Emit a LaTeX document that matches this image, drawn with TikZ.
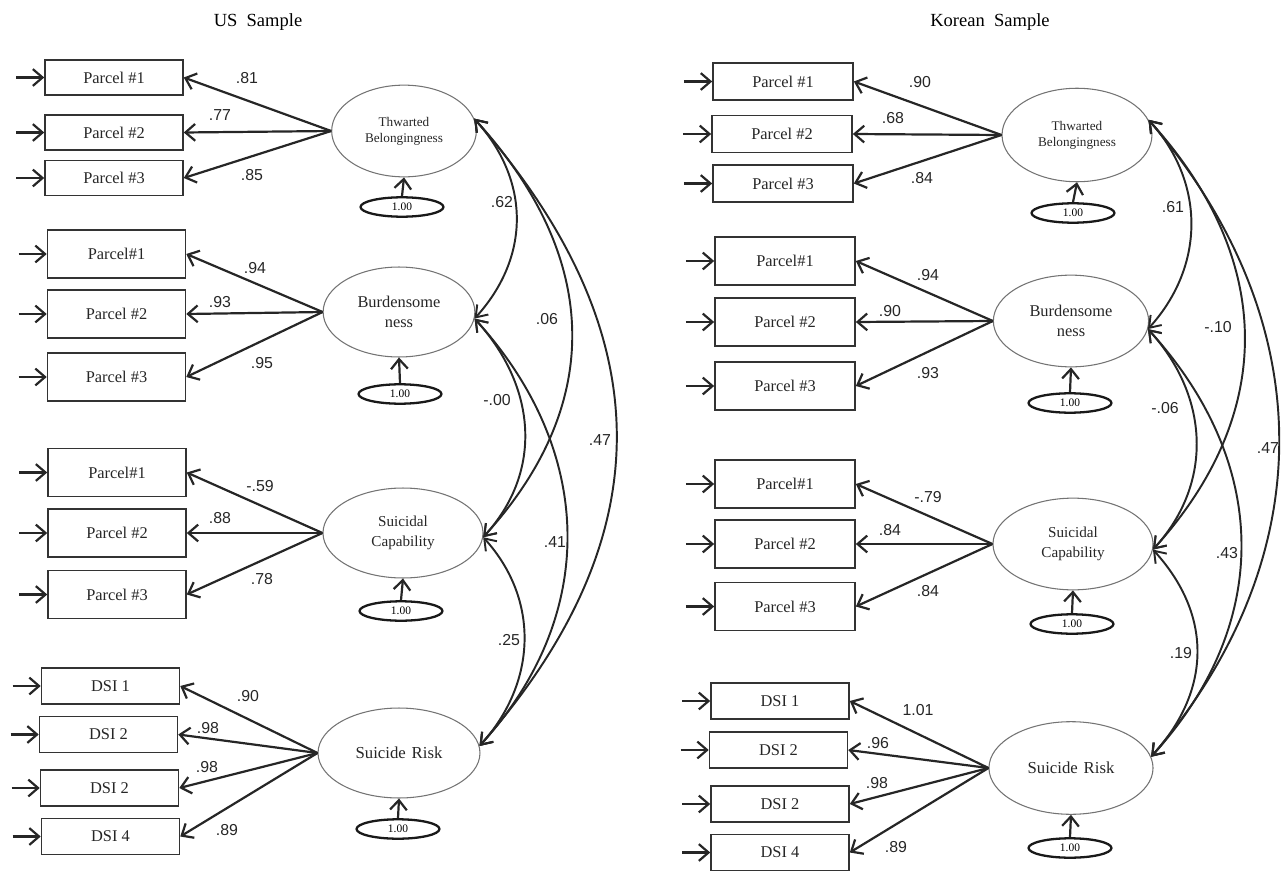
\documentclass[tikz,border=0pt]{standalone}
\usepackage{fontspec}
\setmainfont{Liberation Serif}
\newfontfamily\numfont{Liberation Sans}
\usetikzlibrary{shapes.geometric,arrows.meta}
\begin{document}
\begin{tikzpicture}[x=0.5669pt,y=-0.5669pt,
 box/.style={draw=black!80, line width=0.9pt, inner sep=0pt, font=\fontsize{9.3}{11}\selectfont, text=black!85},
 pbox/.style={box, minimum width=78.2pt, minimum height=27pt},
 tbox/.style={box, minimum width=78.2pt, minimum height=20pt},
 lat/.style={ellipse, draw=black!55, line width=0.6pt, inner sep=0pt, align=center, text=black!85},
 err/.style={ellipse, draw=black!90, line width=1.3pt, minimum width=47pt, minimum height=11pt, inner sep=0pt, font=\fontsize{6.5}{7}\selectfont},
 num/.style={font=\numfont\fontsize{9}{10}\selectfont, text=black!85, inner sep=1pt},
 load/.style={draw=black!85, line width=1.25pt, -{Straight Barb[length=5.5pt,width=9.5pt]}},
 cov/.style={draw=black!85, line width=1.1pt, {Straight Barb[length=6pt,width=8.5pt]}-{Straight Barb[length=6pt,width=8.5pt]}},
 ttl/.style={font=\fontsize{10.5}{12}\selectfont}
]
\useasboundingbox (0,0) rectangle (1287,871);

% ---------------- US sample ----------------
\node[ttl] (uTitle) at (258,22) {US\hspace{0.5em}Sample};

\node[lat, minimum width=82pt, minimum height=52pt, font=\fontsize{7.5}{9}\selectfont] (uT) at (404,131) {Thwarted\\Belongingness};
\node[lat, minimum width=86pt, minimum height=51pt, font=\fontsize{9.3}{11.3}\selectfont] (uB) at (399,312) {Burdensome\\ness};
\node[lat, minimum width=90.7pt, minimum height=51pt, font=\fontsize{8.6}{11.3}\selectfont] (uC) at (403,533) {Suicidal\\Capability};
\node[lat, minimum width=91.8pt, minimum height=51pt, font=\fontsize{9.5}{11}\selectfont] (uR) at (399,753) {Suicide\hspace{0.35em}Risk};

\node[err] (uTe) at (402,207) {1.00};
\node[err] (uBe) at (400,394) {1.00};
\node[err] (uCe) at (401,611) {1.00};
\node[err] (uRe) at (398,829) {1.00};

\node[tbox] (uT1) at (114,77.5) {Parcel \#1};
\node[tbox] (uT2) at (114,132.5) {Parcel \#2};
\node[tbox] (uT3) at (114,178) {Parcel \#3};
\node[pbox] (uB1) at (116.5,254) {Parcel\#1};
\node[pbox] (uB2) at (116.5,314) {Parcel \#2};
\node[pbox] (uB3) at (116.5,377) {Parcel \#3};
\node[pbox] (uC1) at (117,472.5) {Parcel\#1};
\node[pbox] (uC2) at (117,533) {Parcel \#2};
\node[pbox] (uC3) at (117,594.5) {Parcel \#3};
\node[tbox, minimum height=20.4pt] (uR1) at (110.5,686) {DSI 1};
\node[tbox, minimum height=20.4pt] (uR2) at (108.5,734.5) {DSI 2};
\node[tbox, minimum height=20.4pt] (uR3) at (109.5,788) {DSI 2};
\node[tbox, minimum height=20.4pt] (uR4) at (110.5,836.5) {DSI 4};

\foreach \b in {uT1,uT2,uT3,uB1,uB2,uB3,uC1,uC2,uC3,uR1,uR2,uR3,uR4}
  \draw[load] ([xshift=-16pt]\b.west) -- (\b.west);

\foreach \b in {uT1,uT2,uT3} \draw[load] (uT.west) -- (\b.east);
\foreach \b in {uB1,uB2,uB3} \draw[load] (uB.west) -- (\b.east);
\foreach \b in {uC1,uC2,uC3} \draw[load] (uC.west) -- (\b.east);
\foreach \b in {uR1,uR2,uR3,uR4} \draw[load] (uR.west) -- (\b.east);

\draw[load] (uTe.north) -- (uT.south);
\draw[load] (uBe.north) -- (uB.south);
\draw[load] (uCe.north) -- (uC.south);
\draw[load] (uRe.north) -- (uR.south);

\node[num] (uL1) at (247,78) {.81};
\node[num] (uL2) at (220,115) {.77};
\node[num] (uL3) at (252,175) {.85};
\node[num] (uL4) at (255,268) {.94};
\node[num] (uL5) at (220,302) {.93};
\node[num] (uL6) at (262,363) {.95};
\node[num] (uL7) at (260,486) {-.59};
\node[num] (uL8) at (220,518) {.88};
\node[num] (uL9) at (262,579) {.78};
\node[num] (uL10) at (248,696) {.90};
\node[num] (uL11) at (208,728) {.98};
\node[num] (uL12) at (207,767) {.98};
\node[num] (uL13) at (227,830) {.89};

\draw[cov] (uT.10) .. controls +(56,62) and +(56,-62) .. (uB.-5);
\draw[cov] (uT.10) .. controls +(124,136) and +(124,-136) .. (uC.-3);
\draw[cov] (uT.10) .. controls +(186,212) and +(186,-212) .. (uR.5);
\draw[cov] (uB.-5) .. controls +(61,67) and +(61,-67) .. (uC.-3);
\draw[cov] (uB.-5) .. controls +(120,132) and +(120,-132) .. (uR.5);
\draw[cov] (uC.-3) .. controls +(57,63) and +(57,-63) .. (uR.5);

\node[num] (uK1) at (502,202) {.62};
\node[num] (uK2) at (547,319) {.06};
\node[num] (uK3) at (497,400) {-.00};
\node[num] (uK4) at (600,440) {.47};
\node[num] (uK5) at (555,542) {.41};
\node[num] (uK6) at (509,640) {.25};

% ---------------- Korean sample ----------------
\node[ttl] (kTitle) at (990,22) {Korean\hspace{0.5em}Sample};

\node[lat, minimum width=85pt, minimum height=53pt, font=\fontsize{7.5}{9}\selectfont] (kT) at (1077,135) {Thwarted\\Belongingness};
\node[lat, minimum width=88pt, minimum height=52pt, font=\fontsize{9.3}{11.3}\selectfont] (kB) at (1071,321) {Burdensome\\ness};
\node[lat, minimum width=90.7pt, minimum height=52pt, font=\fontsize{8.6}{11.3}\selectfont] (kC) at (1073,544) {Suicidal\\Capability};
\node[lat, minimum width=93pt, minimum height=52.5pt, font=\fontsize{9.5}{11}\selectfont] (kR) at (1071,768) {Suicide\hspace{0.35em}Risk};

\node[err] (kTe) at (1073,213) {1.00};
\node[err] (kBe) at (1070,403) {1.00};
\node[err] (kCe) at (1072,624) {1.00};
\node[err] (kRe) at (1070,848) {1.00};

\node[tbox, minimum width=79.4pt, minimum height=21pt] (kT1) at (783,81.5) {Parcel \#1};
\node[tbox, minimum width=79.4pt, minimum height=21pt] (kT2) at (782,134) {Parcel \#2};
\node[tbox, minimum width=79.4pt, minimum height=21pt] (kT3) at (783,183.5) {Parcel \#3};
\node[pbox, minimum width=79.4pt] (kB1) at (785,261) {Parcel\#1};
\node[pbox, minimum width=79.4pt] (kB2) at (785,322) {Parcel \#2};
\node[pbox, minimum width=79.4pt] (kB3) at (785,386) {Parcel \#3};
\node[pbox, minimum width=79.4pt] (kC1) at (785,484) {Parcel\#1};
\node[pbox, minimum width=79.4pt] (kC2) at (785,544) {Parcel \#2};
\node[pbox, minimum width=79.4pt] (kC3) at (785,606.5) {Parcel \#3};
\node[tbox, minimum height=20.4pt] (kR1) at (780,701) {DSI 1};
\node[tbox, minimum height=20.4pt] (kR2) at (778.5,750) {DSI 2};
\node[tbox, minimum height=20.4pt] (kR3) at (780,804) {DSI 2};
\node[tbox, minimum height=20.4pt] (kR4) at (780,852.5) {DSI 4};

\foreach \b in {kT1,kT2,kT3,kB1,kB2,kB3,kC1,kC2,kC3,kR1,kR2,kR3,kR4}
  \draw[load] ([xshift=-16pt]\b.west) -- (\b.west);

\foreach \b in {kT1,kT2,kT3} \draw[load] (kT.west) -- (\b.east);
\foreach \b in {kB1,kB2,kB3} \draw[load] (kB.west) -- (\b.east);
\foreach \b in {kC1,kC2,kC3} \draw[load] (kC.west) -- (\b.east);
\foreach \b in {kR1,kR2,kR3,kR4} \draw[load] (kR.west) -- (\b.east);

\draw[load] (kTe.north) -- (kT.south);
\draw[load] (kBe.north) -- (kB.south);
\draw[load] (kCe.north) -- (kC.south);
\draw[load] (kRe.north) -- (kR.south);

\node[num] (kL1) at (920,82) {.90};
\node[num] (kL2) at (893,118) {.68};
\node[num] (kL3) at (922,178) {.84};
\node[num] (kL4) at (928,275) {.94};
\node[num] (kL5) at (890,311) {.90};
\node[num] (kL6) at (928,373) {.93};
\node[num] (kL7) at (928,497) {-.79};
\node[num] (kL8) at (890,530) {.84};
\node[num] (kL9) at (928,591) {.84};
\node[num] (kL10) at (918,710) {1.01};
\node[num] (kL11) at (878,743) {.96};
\node[num] (kL12) at (877,783) {.98};
\node[num] (kL13) at (896,847) {.89};

\draw[cov] (kT.12) .. controls +(57,63) and +(57,-63) .. (kB.-6);
\draw[cov] (kT.12) .. controls +(125,138) and +(125,-138) .. (kC.-4);
\draw[cov] (kT.12) .. controls +(172,200) and +(172,-200) .. (kR.8);
\draw[cov] (kB.-6) .. controls +(61,67) and +(61,-67) .. (kC.-4);
\draw[cov] (kB.-6) .. controls +(122,134) and +(122,-134) .. (kR.8);
\draw[cov] (kC.-4) .. controls +(60,66) and +(60,-66) .. (kR.8);

\node[num] (kK1) at (1173,207) {.61};
\node[num] (kK2) at (1218,327) {-.10};
\node[num] (kK3) at (1165,408) {-.06};
\node[num] (kK4) at (1268,448) {.47};
\node[num] (kK5) at (1227,553) {.43};
\node[num] (kK6) at (1181,653) {.19};
\end{tikzpicture}
\end{document}
